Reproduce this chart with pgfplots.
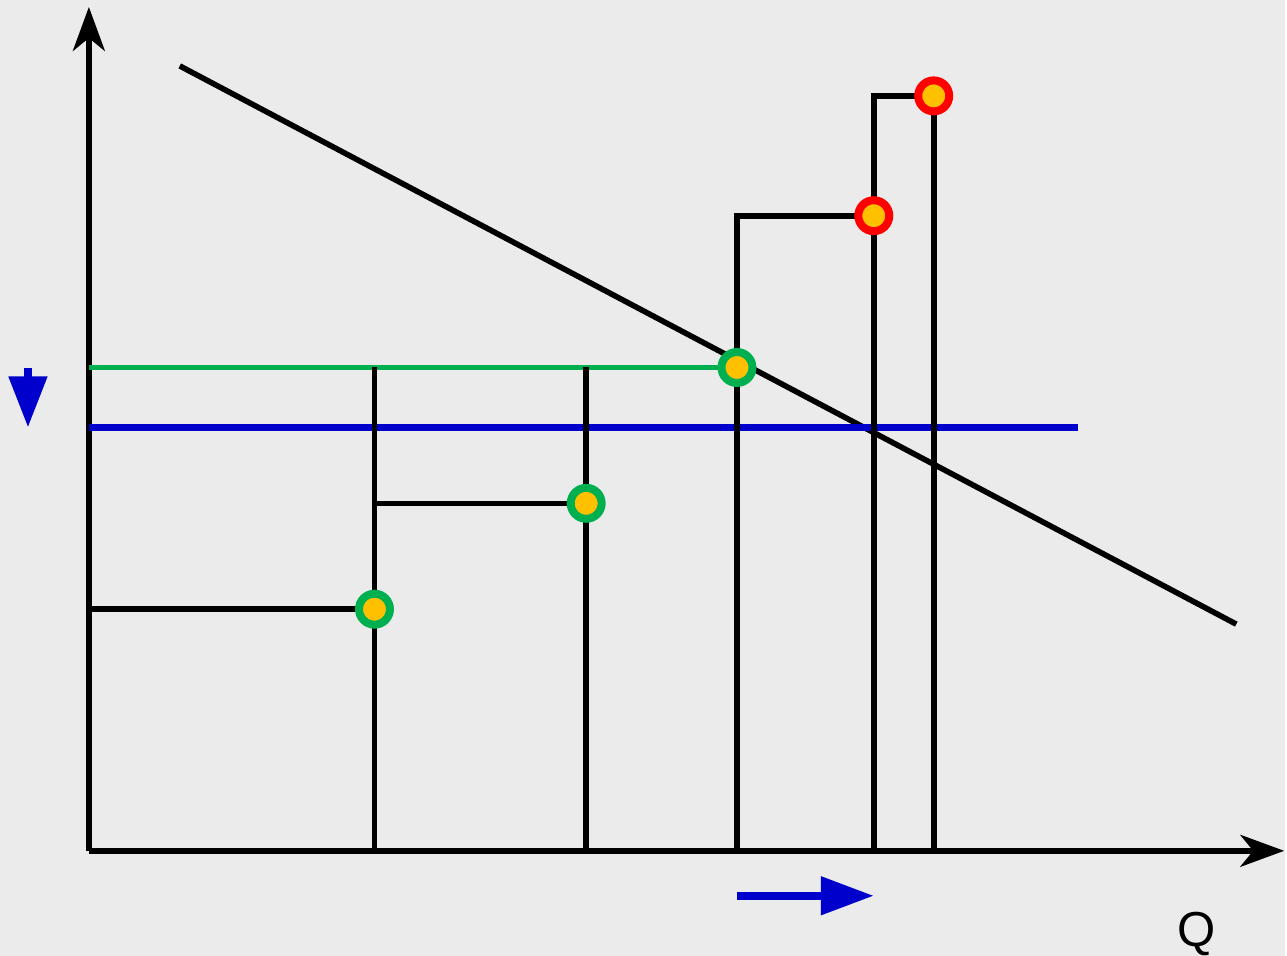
\documentclass[border=0pt]{standalone}
\usepackage{pgfplots}
\pgfplotsset{compat=1.18}
\usepackage{fontspec}
\setmainfont{Liberation Sans}
\usetikzlibrary{arrows.meta}
\definecolor{bg}{HTML}{EBEBEB}
\definecolor{gr}{HTML}{00B050}
\definecolor{bl}{HTML}{0000CC}
\definecolor{rd}{HTML}{FF0000}
\definecolor{yl}{HTML}{FFC000}
\begin{document}
\begin{tikzpicture}
\begin{axis}[
  scale only axis, width=12.87cm, height=9.57cm,
  xmin=0, xmax=1287, ymin=0, ymax=957, y dir=reverse,
  axis lines=none, clip=false,
  axis background/.style={fill=bg},
  every axis plot/.append style={line width=0.56mm, line join=miter},
]
% axes
\addplot[black, mark=none, -{Stealth[length=4.4mm,width=3.2mm,inset=1.3mm]}] coordinates {(89,852) (89,7)};
\addplot[black, mark=none, -{Stealth[length=4.4mm,width=3.2mm,inset=1.3mm]}] coordinates {(89,852) (1286,852)};
% demand line
\addplot[black, mark=none] coordinates {(180,66) (1238,625)};
% green and blue horizontal
\addplot[gr, mark=none, line width=0.6mm] coordinates {(89,368) (738,368)};
\addplot[bl, mark=none, line width=0.65mm] coordinates {(89,428) (1079,428)};
% step lines
\addplot[black, mark=none] coordinates {(89,610) (375,610)};
\addplot[black, mark=none] coordinates {(375,852) (375,368)};
\addplot[black, mark=none] coordinates {(375,504) (587,504)};
\addplot[black, mark=none] coordinates {(587,852) (587,368)};
\addplot[black, mark=none] coordinates {(738,852) (738,216) (875,216)};
\addplot[black, mark=none] coordinates {(935,852) (935,96)};
% points
\addplot[only marks, mark=*, mark size=1.55mm, mark options={draw=gr, fill=yl, line width=0.8mm}] coordinates {(375,610) (587,504) (738,368)};
\addplot[only marks, mark=*, mark size=1.55mm, mark options={draw=rd, fill=yl, line width=0.8mm}] coordinates {(875,216) (935,96)};
\addplot[black, mark=none] coordinates {(875,852) (875,96) (935,96)};
% blue arrows
\addplot[bl, mark=none, line width=0.8mm, -{Triangle[length=5.3mm,width=3.7mm]}] coordinates {(738,897) (875,897)};
\addplot[bl, mark=none, line width=0.8mm, -{Triangle[length=5.1mm,width=3.7mm]}] coordinates {(28,369) (28,428)};
\node[font=\fontsize{14}{14}\selectfont, inner sep=0pt] at (axis cs:1198,935) {Q};
\end{axis}
\end{tikzpicture}
\end{document}
